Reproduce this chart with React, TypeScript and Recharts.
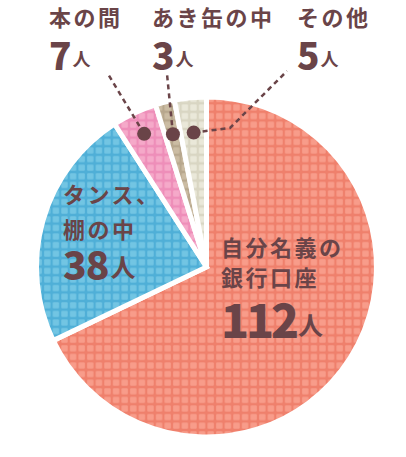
import React from "react";
import { PieChart, Pie, Cell } from "recharts";

const categories = ["自分名義の銀行口座", "タンス、棚の中", "本の間", "あき缶の中", "その他"];
const labelLines = [["自分名義の", "銀行口座"], ["タンス、", "棚の中"], ["本の間"], ["あき缶の中"], ["その他"]];
const counts = [112, 38, 7, 3, 5];
const unit = "人";

const fills = [
  { id: "pSalmon", bg: "#F89C8A", line: "#EF806C" },
  { id: "pBlue", bg: "#72C5E3", line: "#4FAFD7" },
  { id: "pPink", bg: "#F5A9C9", line: "#EE8EB9" },
  { id: "pTan", bg: "#CBBCA3", line: "#B7A78D" },
  { id: "pBeige", bg: "#EAE8D9", line: "#D9D6C3" },
];

const TEXT = "#6A4448";
const FONT = "'Noto Sans CJK JP', 'Noto Sans', sans-serif";

const data = categories.map((name, i) => ({ name, value: counts[i] }));

// label layout (positions only)
const insideLayout: Record<number, any> = {
  0: { x: 221, lineY: [256, 286], numY: 338, numSize: 46, unitSize: 25, numSpacing: -3 },
  1: { x: 63, lineY: [203, 238], numY: 280, numSize: 39, unitSize: 25, numSpacing: -1 },
};
const outsideLayout: Record<number, any> = {
  2: { x: 49, titleY: 26, numY: 70, dotR: 147, path: [[108, 74]] },
  3: { x: 152, titleY: 26, numY: 70, dotR: 137, path: [[167, 74]] },
  4: { x: 297, titleY: 26, numY: 70, dotR: 135, path: [[230, 128], [287, 71]] },
};

const RAD = Math.PI / 180;

const renderLabel = (props: any) => {
  const { cx, cy, midAngle, index } = props;
  const value = counts[index];
  if (insideLayout[index]) {
    const L = insideLayout[index];
    return (
      <g key={`lab-${index}`}>
        {labelLines[index].map((t, k) => (
          <text key={k} x={L.x} y={L.lineY[k]} fill={TEXT} fontFamily={FONT} fontWeight={700} fontSize={22} letterSpacing={2.5}>
            {t}
          </text>
        ))}
        <text x={L.x} y={L.numY} fill={TEXT} fontFamily={FONT} fontWeight={900}>
          <tspan fontSize={L.numSize} letterSpacing={L.numSpacing}>{value}</tspan>
          <tspan fontSize={L.unitSize} fontWeight={700} dx={2} dy={-3}>{unit}</tspan>
        </text>
      </g>
    );
  }
  const L = outsideLayout[index];
  const dx = cx + L.dotR * Math.cos(-midAngle * RAD);
  const dy = cy + L.dotR * Math.sin(-midAngle * RAD);
  const pts = [[dx, dy], ...L.path].map((p: number[]) => p.join(",")).join(" ");
  return (
    <g key={`lab-${index}`}>
      <polyline points={pts} fill="none" stroke={TEXT} strokeWidth={2.5} strokeDasharray="5 4" />
      <circle cx={dx} cy={dy} r={7} fill={TEXT} />
      <text x={L.x} y={L.titleY} fill={TEXT} fontFamily={FONT} fontWeight={700} fontSize={22} letterSpacing={2.5}>
        {labelLines[index][0]}
      </text>
      <text x={L.x} y={L.numY} fill={TEXT} fontFamily={FONT} fontWeight={900}>
        <tspan fontSize={37}>{value}</tspan>
        <tspan fontSize={18} fontWeight={700} dx={1} dy={-4}>{unit}</tspan>
      </text>
    </g>
  );
};

export default function App() {
  return (
    <div style={{ position: "absolute", left: 0, top: 0, width: 406, height: 457, background: "#fff" }}>
      <svg width={0} height={0} style={{ position: "absolute" }}>
        <defs>
          {fills.map((f) => (
            <pattern key={f.id} id={f.id} width={8.6} height={8.6} patternUnits="userSpaceOnUse">
              <rect x={0} y={0} width={8.6} height={8.6} fill={f.line} />
              <rect x={1.1} y={1.1} width={6.4} height={6.4} rx={1} fill={f.bg} />
            </pattern>
          ))}
        </defs>
      </svg>
      <PieChart width={406} height={457}>
        <Pie
          data={data}
          dataKey="value"
          nameKey="name"
          cx={201.5}
          cy={262}
          outerRadius={170}
          innerRadius={0}
          startAngle={90}
          endAngle={-270}
          stroke="#ffffff"
          strokeWidth={5}
          isAnimationActive={false}
          label={renderLabel}
          labelLine={false}
        >
          {data.map((d, i) => (
            <Cell key={d.name} fill={`url(#${fills[i].id})`} />
          ))}
        </Pie>
      </PieChart>
    </div>
  );
}
